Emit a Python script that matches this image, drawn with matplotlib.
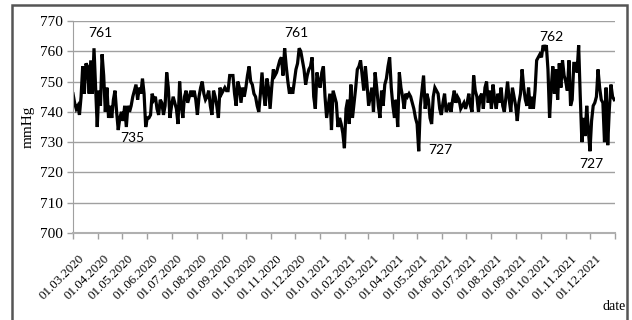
import numpy as np
import pandas as pd
import matplotlib
matplotlib.use("Agg")
import matplotlib.pyplot as plt
import matplotlib.dates as mdates
import matplotlib.transforms as mtransforms
from matplotlib.patches import Rectangle

# atmospheric pressure, every second day from 01.03.2020 (mmHg)
pressure = [
    746, 743, 741, 742, 739, 745, 755, 746, 756, 755, 746, 757, 746, 761, 748, 735,
    747, 742, 759, 752, 740, 748, 738, 742, 738, 744, 747, 740, 734, 738, 740, 737,
    742, 735, 742, 740, 742, 745, 747, 749, 744, 748, 746, 751, 746, 735, 738, 738,
    739, 746, 744, 745, 741, 739, 744, 743, 739, 742, 753, 748, 738, 742, 745, 743,
    741, 736, 750, 742, 738, 745, 747, 743, 745, 747, 745, 747, 744, 739, 745, 748,
    750, 746, 744, 745, 747, 742, 739, 747, 745, 742, 738, 748, 746, 747, 748, 747,
    747, 752, 752, 752, 746, 742, 750, 748, 743, 748, 745, 748, 752, 755, 750, 749,
    746, 745, 742, 740, 746, 753, 746, 742, 751, 748, 741, 748, 754, 752, 753, 755,
    757, 758, 752, 761, 755, 750, 746, 748, 746, 750, 754, 756, 761,
    760, 757, 754, 749, 752, 754, 755, 758, 745, 741, 753, 750, 748, 753, 755, 745,
    738, 742, 746, 734, 747, 745, 743, 735, 738, 736, 733, 728, 741, 744, 736, 749,
    738, 743, 748, 754, 755, 757, 752, 747, 755, 749, 742, 745, 748, 740, 753, 748,
    742, 738, 747, 742, 749, 751, 755, 758, 748, 742, 738, 744, 735, 753, 748, 745,
    741, 746, 745, 746, 745, 743, 741, 738, 736, 727, 742, 747, 752, 741, 746, 744,
    738, 736, 745, 748, 747, 746, 741, 739, 743, 746, 740, 741, 743, 740, 744, 747,
    743, 745, 744, 741, 742, 743, 741, 743, 746, 742, 740, 752, 747, 745, 740, 745,
    746, 741, 748, 750, 743, 747, 741, 749, 744, 741, 746, 743, 748, 742, 740, 745,
    750, 744, 740, 748, 745, 742, 737, 743, 746, 754, 748, 744, 742, 748, 741, 745,
    741, 747, 757, 758, 759, 758, 762, 761, 762, 754, 738, 748, 755, 746, 754, 744,
    756, 748, 757, 752, 750, 747, 757, 742, 744, 756, 756, 753, 762, 745, 730, 738,
    732, 742, 734, 727, 737, 742, 743, 745, 754, 748, 744, 743, 730, 748, 729, 741,
    749, 745, 744,
]
dates = pd.date_range("2020-03-01", periods=len(pressure), freq="2D")

# labelled extremes: text, label date, label height
notes = ["761", "735", "761", "727", "762", "727"]
note_dates = pd.to_datetime(["2020-04-04", "2020-05-13", "2020-12-02",
                             "2021-05-30", "2021-10-14", "2021-12-03"])
note_y = [766, 731.4, 766, 727.4, 764.7, 722.7]

serif = "Liberation Serif"
fig = plt.figure(figsize=(6.32, 3.2), dpi=100)
ax = fig.add_axes([73 / 632, 1 - 233 / 320, (615 - 73) / 632, (233 - 21) / 320])

ax.plot(dates, pressure, color="black", lw=2.3, solid_joinstyle="miter")

ax.set_ylim(700, 770)
ax.set_yticks(np.arange(700, 771, 10))
ax.set_xlim(pd.Timestamp("2020-03-01"), pd.Timestamp("2022-01-01"))
ax.xaxis.set_major_locator(mdates.MonthLocator())
ax.xaxis.set_major_formatter(mdates.DateFormatter("%d.%m.%Y"))

ax.grid(axis="y", color="#a0a0a0", lw=1)
ax.set_axisbelow(True)
for s in ["top", "right"]:
    ax.spines[s].set_visible(False)
ax.spines["left"].set_color("#a0a0a0")
ax.spines["bottom"].set_color("#b0b0b0")
ax.spines["bottom"].set_linewidth(1.5)
ax.tick_params(axis="both", color="#a0a0a0", length=4, width=1)
ax.tick_params(axis="y", labelsize=11, pad=3)
ax.tick_params(axis="x", labelsize=9.3, pad=10)

for t in ax.get_yticklabels():
    t.set_fontfamily(serif)
fig.canvas.draw()
shift = mtransforms.ScaledTranslation(5 / 100, 0, fig.dpi_scale_trans)
for t in ax.get_xticklabels():
    t.set_fontfamily(serif)
    t.set_rotation(45)
    t.set_ha("right")
    t.set_rotation_mode("anchor")
    t.set_transform(t.get_transform() + shift)
    if t.get_text() == "01.01.2022":
        t.set_visible(False)

for txt, d, y in zip(notes, note_dates, note_y):
    ax.text(d, y, txt, fontsize=10, family="Lato", ha="center", va="center")

ax.set_ylabel("mmHg", fontsize=11, family=serif, labelpad=4)
fig.text(614 / 632, 1 - 307 / 320, "date", fontsize=10, family=serif,
         ha="center", va="center")

# outer frame around the whole chart
fig.patches.append(Rectangle((12 / 632, -0.05), (627 - 12) / 632, 1 - 5 / 320 + 0.05,
                             transform=fig.transFigure, fill=False,
                             edgecolor="#555555", lw=1.8))

fig.savefig("out.png", dpi=100)
